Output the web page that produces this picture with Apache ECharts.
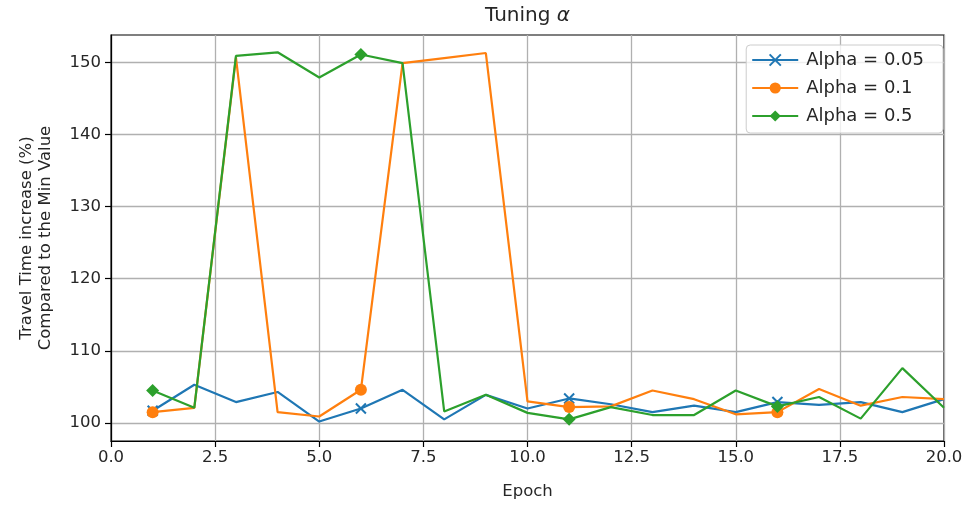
<!DOCTYPE html>
<html>
<head>
<meta charset="utf-8">
<script src="https://cdn.jsdelivr.net/npm/echarts@6/dist/echarts.min.js"></script>
<style>html,body{margin:0;padding:0;background:#fff;}#c{width:969px;height:505px;}</style>
</head>
<body>
<div id="c"></div>
<script>
var epochs = [1,2,3,4,5,6,7,8,9,10,11,12,13,14,15,16,17,18,19,20];
var alpha005 = [101.7,105.3,102.9,104.3,100.2,102.0,104.6,100.5,103.9,102.0,103.4,102.6,101.5,102.4,101.5,102.9,102.5,102.9,101.5,103.3];
var alpha01  = [101.5,102.1,150.7,101.5,100.9,104.6,149.9,150.6,151.3,103.0,102.2,102.3,104.5,103.3,101.2,101.5,104.7,102.4,103.6,103.3];
var alpha05  = [104.5,102.1,150.9,151.4,147.9,151.1,149.9,101.6,103.9,101.4,100.5,102.2,101.1,101.1,104.5,102.3,103.6,100.6,107.6,102.1];
var seriesNames = ['Alpha = 0.05','Alpha = 0.1','Alpha = 0.5'];
var yTicks = [100,110,120,130,140,150];
var markEvery = 5;

var FONT = 'DejaVu Sans';
var TXT = '#262626';
function mk(vals){
  return epochs.map(function(e,i){
    var d = {value:[e, vals[i]]};
    if (i % markEvery !== 0) d.symbol = 'none';
    return d;
  });
}
var colors = ['#1f77b4','#ff7f0e','#2ca02c'];
var symbols = ['path://M0,0L10,10M10,0L0,10','circle','path://M5,0L10,5L5,10L0,5Z'];
var sizes = [10,12,13];
var datas = [alpha005, alpha01, alpha05];
var series = datas.map(function(v,k){
  return {
    name: seriesNames[k], type:'line', data: mk(v),
    symbol: symbols[k], symbolSize: sizes[k], showSymbol:true,
    lineStyle:{color:colors[k], width:2.2},
    itemStyle:{color:colors[k], borderColor:colors[k], borderWidth: k===0?2:0},
    emphasis:{disabled:true}, animation:false, z: 2+k
  };
});
var chart = echarts.init(document.getElementById('c'), null, {renderer:'canvas'});
chart.setOption({
  animation:false,
  color: colors,
  grid:{left:111, right:25, top:35, bottom:63, show:true, borderColor:'#000', borderWidth:1.2, backgroundColor:'#fff'},
  graphic:[{
    type:'text', x:527.5, y:16, z:10,
    style:{text:'Tuning {a|α}', fontSize:20, fontFamily:FONT, fill:TXT, align:'center', verticalAlign:'middle',
      rich:{a:{fontStyle:'italic', fontSize:20, fontFamily:FONT, fill:TXT}}}
  }],
  legend:{
    orient:'vertical', right:26, top:45,
    data: seriesNames,
    itemWidth:46, itemHeight:14, itemGap:10,
    padding:[6,19,8,5],
    backgroundColor:'rgba(255,255,255,0.8)', borderColor:'#cccccc', borderWidth:1, borderRadius:4,
    textStyle:{fontFamily:FONT, fontSize:18, lineHeight:18, color:TXT, padding:[0,0,0,3]}
  },
  xAxis:{
    type:'value', min:0, max:20, interval:2.5,
    name:'Epoch', nameLocation:'middle', nameGap:42,
    nameTextStyle:{fontFamily:FONT, fontSize:16.5, color:TXT},
    axisLine:{show:true, onZero:false, lineStyle:{color:'#000', width:1.2}},
    axisTick:{show:true, inside:false, length:6, lineStyle:{color:'#000', width:1.2}},
    axisLabel:{fontFamily:FONT, fontSize:16.5, color:TXT, margin:8, formatter:function(v){return v.toFixed(1);}},
    splitLine:{show:true, lineStyle:{color:'#b0b0b0', width:1.3}}
  },
  yAxis:{
    type:'value', min:97.5, max:153.8,
    name:'Travel Time increase (%)\nCompared to the Min Value', nameLocation:'middle', nameGap:56,
    nameTextStyle:{fontFamily:FONT, fontSize:16.5, color:TXT, lineHeight:19},
    axisLine:{show:true, onZero:false, lineStyle:{color:'#000', width:1.2}},
    axisTick:{show:true, length:6, customValues: yTicks, lineStyle:{color:'#000', width:1.2}},
    axisLabel:{fontFamily:FONT, fontSize:16.5, color:TXT, margin:10, customValues: yTicks},
    splitLine:{show:true, lineStyle:{color:'#b0b0b0', width:1.3}}
  },
  series: series
});
</script>
</body>
</html>
